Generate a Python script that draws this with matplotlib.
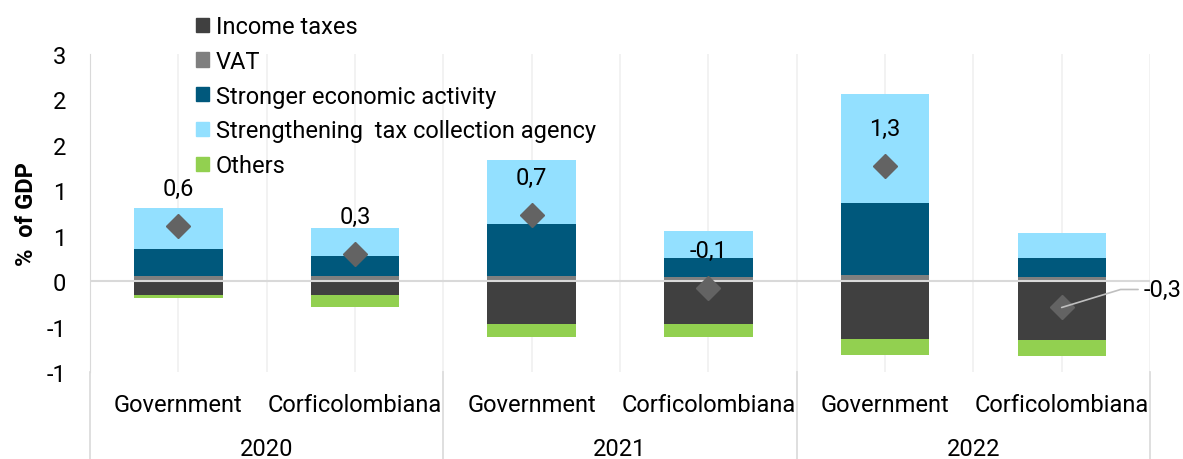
import numpy as np
import matplotlib
matplotlib.use("Agg")
import matplotlib.pyplot as plt
from matplotlib.patches import Patch
from matplotlib.lines import Line2D

plt.rcParams['font.family'] = ['Roboto', 'DejaVu Sans']

# data (% of GDP)
years = ["2020", "2021", "2022"]
sources = ["Government", "Corficolombiana"] * 3
income_taxes = [-0.15, -0.15, -0.47, -0.47, -0.64, -0.645]
vat = [0.06, 0.06, 0.06, 0.05, 0.07, 0.05]
stronger_activity = [0.29, 0.22, 0.57, 0.21, 0.79, 0.21]
tax_agency = [0.45, 0.31, 0.70, 0.29, 1.20, 0.275]
others = [-0.04, -0.14, -0.14, -0.14, -0.17, -0.175]
total = [0.61, 0.30, 0.73, -0.07, 1.27, -0.29]
ytick_vals = [-1.0, -0.5, 0.0, 0.5, 1.0, 1.5, 2.0, 2.5]
ytick_labels = ["-1", "-1", "0", "1", "1", "2", "2", "3"]

c_income = "#404040"
c_vat = "#7f7f7f"
c_strong = "#00587c"
c_agency = "#93e0ff"
c_others = "#92d050"

fs = 17

fig = plt.figure(figsize=(11.83, 4.6), dpi=100)
ax = fig.add_axes([90 / 1183, 1 - 373 / 460, 1060 / 1183, 318 / 460])

x = np.arange(len(sources))
w = 0.5

# positive stack
ax.bar(x, vat, w, color=c_vat, zorder=2)
b1 = np.array(vat)
ax.bar(x, stronger_activity, w, bottom=b1, color=c_strong, zorder=2)
b2 = b1 + np.array(stronger_activity)
ax.bar(x, tax_agency, w, bottom=b2, color=c_agency, zorder=2)
# negative stack
ax.bar(x, income_taxes, w, color=c_income, zorder=2)
ax.bar(x, others, w, bottom=np.array(income_taxes), color=c_others, zorder=2)

ax.axhline(0, color="#d9d9d9", lw=1.5, zorder=3)

# total markers
ax.plot(x, total, "D", color="#636363", ms=12.5, zorder=4, ls="none")

for i, v in enumerate(total):
    txt = f"{v:.1f}".replace(".", ",")
    if i == len(total) - 1:
        ax.annotate(txt, xy=(x[i], v), xytext=(82, 18), textcoords="offset pixels",
                    ha="left", va="center", fontsize=fs,
                    arrowprops=dict(arrowstyle="-", color="#bfbfbf", lw=1.2,
                                    shrinkA=2, shrinkB=0,
                                    connectionstyle="angle,angleA=0,angleB=17,rad=0"),
                    zorder=5)
    else:
        ax.annotate(txt, xy=(x[i], v), xytext=(0, 37), textcoords="offset pixels",
                    ha="center", va="center", fontsize=fs, zorder=5)

ax.set_xlim(-0.5, len(sources) - 0.5)
ax.set_ylim(-1.0, 2.5)
ax.set_yticks(ytick_vals)
ax.set_yticklabels(ytick_labels, fontsize=fs)
ax.tick_params(axis="y", length=0, pad=17)
ax.set_ylabel("%  of GDP", fontsize=fs, fontweight="bold")
ax.yaxis.set_label_coords(-0.049, 0.5)

# vertical gridlines
for gx in np.arange(-0.5, len(sources), 0.5):
    ax.axvline(gx, color="#f0f0f0", lw=1.2, zorder=0)

for s in ["top", "right", "bottom"]:
    ax.spines[s].set_visible(False)
ax.spines["left"].set_color("#d9d9d9")

# multi-level category axis
ax.set_xticks(x)
ax.set_xticklabels(sources, fontsize=fs)
ax.tick_params(axis="x", length=0, pad=15)
trans = ax.get_xaxis_transform()
for j, yr in enumerate(years):
    ax.text(2 * j + 0.5, -0.26, yr, transform=trans, ha="center", va="baseline", fontsize=fs)
for sep in [-0.5, 1.5, 3.5, 5.5]:
    ax.add_line(Line2D([sep, sep], [0, -0.28], transform=trans, color="#d9d9d9",
                       lw=1.2, clip_on=False))

handles = [Patch(color=c_income), Patch(color=c_vat), Patch(color=c_strong),
           Patch(color=c_agency), Patch(color=c_others)]
labels = ["Income taxes", "VAT", "Stronger economic activity",
          "Strengthening  tax collection agency", "Others"]
fig.legend(handles, labels, loc="upper left", bbox_to_anchor=(196 / 1183, 1 - 16 / 460),
           frameon=False, fontsize=fs, handlelength=0.55, handleheight=0.55,
           handletextpad=0.3, labelspacing=0.5, borderaxespad=0, borderpad=0)

fig.savefig("out.png", dpi=100)
